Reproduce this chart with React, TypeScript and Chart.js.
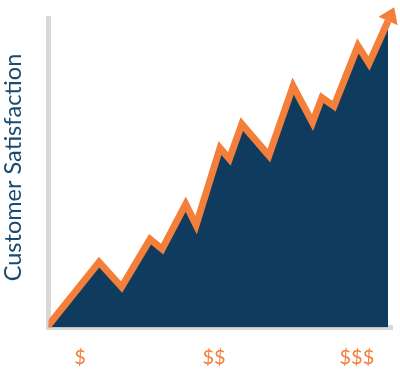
import React, { useEffect, useRef } from "react";
import { Chart, registerables } from "chart.js";

Chart.register(...registerables);

// Data (abstract units: x = price, y = satisfaction)
const priceValues = [-0.5, 14.6, 21.1, 29.3, 32.8, 39.6, 42.6, 49.5, 52.2, 55.8, 63.6, 70.6, 76.2, 78.9, 82.4, 89.3, 92.5, 98.0];
const satisfactionValues = [0, 21.0, 13.0, 28.3, 25.2, 39.6, 32.9, 57.6, 54.1, 65.3, 55.2, 77.5, 65.8, 73.8, 71.1, 90.4, 84.8, 98.4];
const priceTickLabels = ["$", "$$", "$$$"];
const priceTickPositions = [9.1, 47.8, 89.0];
const yAxisTitle = "Customer Satisfaction";

const ORANGE = "#f47f3b";
const NAVY = "#0f3b5e";
const TITLE_NAVY = "#1a4a6d";
const GRAY = "#d9d9d9";

const arrowHeadPlugin = {
  id: "arrowHead",
  afterDatasetsDraw(chart: any) {
    const meta = chart.getDatasetMeta(0);
    const pts = meta.data;
    const n = pts.length;
    if (n < 2) return;
    const a = pts[n - 2];
    const b = pts[n - 1];
    const dx = b.x - a.x;
    const dy = b.y - a.y;
    const len = Math.hypot(dx, dy) || 1;
    const ux = dx / len;
    const uy = dy / len;
    const px = -uy;
    const py = ux;
    const ctx = chart.ctx;
    const half = 10.5;
    const length = 15;
    ctx.save();
    ctx.fillStyle = ORANGE;
    ctx.beginPath();
    ctx.moveTo(b.x + ux * length, b.y + uy * length);
    ctx.lineTo(b.x + px * half, b.y + py * half);
    ctx.lineTo(b.x - px * half, b.y - py * half);
    ctx.closePath();
    ctx.fill();
    ctx.restore();
  },
};

const yTitlePlugin = {
  id: "yTitle",
  afterDraw(chart: any) {
    const ctx = chart.ctx;
    const area = chart.chartArea;
    ctx.save();
    ctx.translate(area.left - 35.5, (area.top + area.bottom) / 2 - 5.5);
    ctx.rotate(-Math.PI / 2);
    ctx.fillStyle = TITLE_NAVY;
    ctx.font = "23.5px Lato";
    ctx.textAlign = "center";
    ctx.textBaseline = "middle";
    ctx.fillText(yAxisTitle, 0, 0);
    ctx.restore();
  },
};

export default function App() {
  const canvasRef = useRef<HTMLCanvasElement | null>(null);

  useEffect(() => {
    const canvas = canvasRef.current;
    if (!canvas) return;
    const chart = new Chart(canvas, {
      type: "line",
      data: {
        datasets: [
          {
            data: priceValues.map((x, i) => ({ x, y: satisfactionValues[i] })),
            borderColor: ORANGE,
            borderWidth: 7,
            backgroundColor: NAVY,
            fill: "origin",
            pointRadius: 0,
            pointHoverRadius: 0,
            tension: 0,
            borderJoinStyle: "miter",
            clip: 0,
          } as any,
        ],
      },
      options: {
        responsive: false,
        animation: false,
        events: [],
        layout: { autoPadding: false, padding: { top: 18.5, right: 7.5, bottom: 3.5, left: 0 } },
        plugins: {
          legend: { display: false },
          tooltip: { enabled: false },
        },
        scales: {
          x: {
            type: "linear",
            min: 0,
            max: 99.28,
            z: 1,
            grid: { display: false, drawTicks: false },
            border: { display: true, color: GRAY, width: 5 },
            afterBuildTicks: (axis: any) => {
              axis.ticks = priceTickPositions.map((v) => ({ value: v }));
            },
            afterFit: (axis: any) => {
              axis.height = 42;
            },
            ticks: {
              autoSkip: false,
              maxRotation: 0,
              padding: 18,
              color: ORANGE,
              font: { family: "Lato", size: 20 },
              callback: (_v: any, i: number) => priceTickLabels[i],
            },
          },
          y: {
            type: "linear",
            min: 0,
            max: 99.2,
            z: 1,
            grid: { display: false, drawTicks: false },
            border: { display: true, color: GRAY, width: 5 },
            ticks: { display: false },
            afterFit: (axis: any) => {
              axis.width = 48.5;
            },
            title: { display: false, text: yAxisTitle },
          },
        },
      } as any,
      plugins: [arrowHeadPlugin, yTitlePlugin],
    });
    return () => chart.destroy();
  }, []);

  return (
    <div style={{ position: "fixed", left: 0, top: 0, width: 400, height: 373, background: "#ffffff" }}>
      <canvas ref={canvasRef} width={400} height={373} style={{ display: "block", width: 400, height: 373 }} />
    </div>
  );
}
